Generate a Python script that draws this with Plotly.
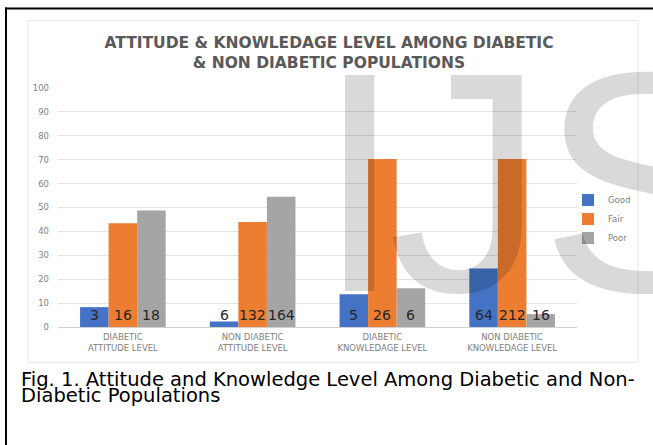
import plotly.graph_objects as go

# ---------------- data ----------------
categories = ["DIABETIC ATTITUDE LEVEL", "NON DIABETIC ATTITUDE LEVEL",
              "DIABETIC KNOWLEDAGE LEVEL", "NON DIABETIC KNOWLEDAGE LEVEL"]
tick_labels = ["DIABETIC<br>ATTITUDE LEVEL", "NON DIABETIC<br>ATTITUDE LEVEL",
               "DIABETIC<br>KNOWLEDAGE LEVEL", "NON DIABETIC<br>KNOWLEDAGE LEVEL"]
series_names = ["Good", "Fair", "Poor"]
good_pct = [8.3, 2.3, 13.7, 24.5]
fair_pct = [43.4, 43.9, 70.3, 70.3]
poor_pct = [48.7, 54.5, 16.2, 5.4]
good_counts = ["3", "6", "5", "64"]
fair_counts = ["16", "132", "26", "212"]
poor_counts = ["18", "164", "6", "16"]
y_ticks = [0, 10, 20, 30, 40, 50, 60, 70, 80, 90, 100]

title_text = "ATTITUDE & KNOWLEDAGE LEVEL AMONG DIABETIC<br>& NON DIABETIC POPULATIONS"
caption_line1 = "Fig. 1. Attitude and Knowledge Level Among Diabetic and Non-"
caption_line2 = "Diabetic Populations"
watermark_letters = ["I", "J", "S"]

# ---------------- styles ----------------
W, H = 653, 445
L, R, T, B = 58, 76, 88.3, 118.3
PW, PH = W - L - R, H - T - B
BARGAP = 0.34
colors = ["#4472C4", "#ED7D31", "#A5A5A5"]
FONT = "DejaVu Sans"
WM_LEFT_PX = [315, 387, 539]   # left edges of watermark letters (pixels)


def px_x(px):
    return (px - L) / PW


def px_y(py):
    return (H - B - py) / PH


values = [good_pct, fair_pct, poor_pct]
counts = [good_counts, fair_counts, poor_counts]

fig = go.Figure()
for name, vals, col in zip(series_names, values, colors):
    fig.add_trace(go.Bar(x=categories, y=vals, name=name, marker_color=col,
                         marker_line_width=0))

bar_px = PW / len(categories) * (1 - BARGAP) / len(series_names)
annotations = []
for j, cnts in enumerate(counts):
    for cat, c in zip(categories, cnts):
        annotations.append(dict(x=cat, y=4.9, xref="x", yref="y", text=c,
                                showarrow=False, xanchor="center", yanchor="middle",
                                xshift=(j - 1) * bar_px, borderpad=0,
                                font=dict(family=FONT, size=14, color="#262626")))

# caption
annotations.append(dict(x=px_x(20), y=px_y(379.5), xref="paper", yref="paper",
                        text=caption_line1, showarrow=False, xanchor="left",
                        yanchor="middle", borderpad=0,
                        font=dict(family=FONT, size=19.5, color="#000000")))
annotations.append(dict(x=px_x(20), y=px_y(395), xref="paper", yref="paper",
                        text=caption_line2, showarrow=False, xanchor="left",
                        yanchor="middle", borderpad=0,
                        font=dict(family=FONT, size=19.5, color="#000000")))
# watermark
for letter, lx in zip(watermark_letters, WM_LEFT_PX):
    annotations.append(dict(x=px_x(lx), y=px_y(183), xref="paper", yref="paper",
                            text=letter, showarrow=False, xanchor="left",
                            yanchor="middle", borderpad=0,
                            font=dict(family="Liberation Sans", size=314,
                                      color="rgba(0,0,0,0.15)")))

shapes = [
    # light chart frame
    dict(type="rect", xref="paper", yref="paper", x0=px_x(28), x1=px_x(638),
         y0=px_y(362), y1=px_y(21), line=dict(color="#e6e6e6", width=1),
         layer="below"),
    # black page frame (top and left)
    dict(type="line", xref="paper", yref="paper", x0=px_x(5), x1=px_x(660),
         y0=px_y(9), y1=px_y(9), line=dict(color="#000000", width=2)),
    dict(type="line", xref="paper", yref="paper", x0=px_x(6), x1=px_x(6),
         y0=px_y(8), y1=px_y(450), line=dict(color="#000000", width=2)),
]

fig.update_layout(
    width=W, height=H,
    margin=dict(l=L, r=R, t=T, b=B, pad=0),
    paper_bgcolor="white", plot_bgcolor="white",
    barmode="group", bargap=BARGAP, bargroupgap=0,
    title=dict(text=title_text, x=329 / W, xanchor="center", xref="container",
               y=1 - 48 / H, yanchor="middle",
               font=dict(family=FONT, size=15.5, color="#595959", weight="bold")),
    xaxis=dict(tickvals=categories, ticktext=tick_labels, showgrid=False,
               showline=False, zeroline=False, ticks="",
               tickfont=dict(family=FONT, size=8.5, color="#7f7f7f"),
               ticklabelstandoff=3),
    yaxis=dict(range=[0, 100], tickvals=y_ticks, showgrid=True,
               gridcolor="#e3e3e3", gridwidth=1, zeroline=True,
               zerolinecolor="#d0d0d0", zerolinewidth=1, showline=False,
               ticks="", tickfont=dict(family=FONT, size=8.5, color="#7f7f7f"),
               ticklabelstandoff=8),
    legend=dict(x=px_x(568), xanchor="left", y=px_y(185.5), yanchor="top",
                font=dict(family=FONT, size=8.5, color="#7f7f7f"),
                bgcolor="rgba(0,0,0,0)", itemwidth=30, tracegroupgap=0),
    showlegend=True,
    annotations=annotations,
    shapes=shapes,
)

fig.write_html("out.html",
               config={"displayModeBar": False},
               post_script="document.body.style.margin='0px';")
